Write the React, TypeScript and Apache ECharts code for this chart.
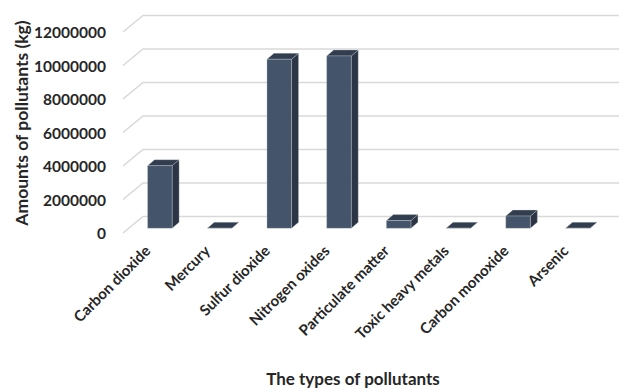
import React, { useEffect, useRef } from "react";
import * as echarts from "echarts";

const categories = [
  "Carbon dioxide",
  "Mercury",
  "Sulfur dioxide",
  "Nitrogen oxides",
  "Particulate matter",
  "Toxic heavy metals",
  "Carbon monoxide",
  "Arsenic",
];
const amounts = [3740000, 2000, 10090000, 10290000, 460000, 3000, 730000, 1000];
const yTicks = [0, 2000000, 4000000, 6000000, 8000000, 10000000, 12000000];

const FONT = "Lato, 'Open Sans', sans-serif";
const TEXT = "#262626";

// oblique projection: back wall offset relative to the front plane
const WALL_DX = 20;
const WALL_DY = -16.5;
// bar front face sits a bit behind the front plane, bar depth beyond that
const BAR_OX = 7;
const BAR_OY = -4.7;
const BAR_DX = 7;
const BAR_DY = -6;
const BAR_W = 24.6;

export default function App() {
  const ref = useRef<HTMLDivElement>(null);

  useEffect(() => {
    if (!ref.current) return;
    const chart = echarts.init(ref.current, null, { renderer: "svg" });

    const option: any = {
      animation: false,
      backgroundColor: "#ffffff",
      grid: { left: 123, right: 18.4, top: 32, bottom: 155, containLabel: false },
      xAxis: {
        type: "category",
        data: categories,
        axisLine: { show: false },
        axisTick: { show: false },
        splitLine: { show: false },
        axisLabel: {
          rotate: 45,
          interval: 0,
          margin: 9,
          padding: [0, 8, 0, 0],
          color: TEXT,
          fontFamily: FONT,
          fontWeight: "bold",
          fontSize: 15,
        },
      },
      yAxis: {
        type: "value",
        min: 0,
        max: 12000000,
        interval: 2000000,
        axisLine: { show: false },
        axisTick: { show: false },
        splitLine: { show: false },
        axisLabel: {
          margin: 17,
          color: TEXT,
          fontFamily: FONT,
          fontWeight: "bold",
          fontSize: 15.5,
          formatter: (v: number) => String(v),
        },
      },
      graphic: [
        {
          type: "text",
          x: 21,
          y: 123,
          rotation: Math.PI / 2,
          style: {
            text: "Amounts of pollutants (kg)",
            fill: TEXT,
            font: `bold 17.5px ${FONT}`,
            align: "center",
            verticalAlign: "middle",
          },
        },
        {
          type: "text",
          x: 353,
          y: 378,
          style: {
            text: "The types of pollutants",
            fill: TEXT,
            font: `bold 17px ${FONT}`,
            align: "center",
            verticalAlign: "middle",
          },
        },
      ],
      series: [
        {
          // gridlines: a short diagonal on the side wall plus the back wall line
          type: "custom",
          clip: false,
          silent: true,
          z: 1,
          data: yTicks.map((v) => [0, v]),
          encode: { x: 0, y: 1 },
          renderItem: (params: any, api: any) => {
            const cs = params.coordSys;
            const y = api.coord([0, api.value(1)])[1];
            const x0 = cs.x;
            return {
              type: "polyline",
              shape: {
                points: [
                  [x0, y],
                  [x0 + WALL_DX, y + WALL_DY],
                  [x0 + WALL_DX + cs.width, y + WALL_DY],
                ],
              },
              style: { stroke: "#d9d9d9", lineWidth: 1.6, fill: "none" },
            };
          },
        },
        {
          // 3D columns: front, top and right faces
          type: "custom",
          clip: false,
          z: 2,
          data: amounts.map((v, i) => [i, v]),
          encode: { x: 0, y: 1 },
          renderItem: (params: any, api: any) => {
            const i = api.value(0);
            const top = api.coord([i, api.value(1)]);
            const base = api.coord([i, 0]);
            const L = top[0] + BAR_OX - BAR_W / 2;
            const R = L + BAR_W;
            const T = top[1] + BAR_OY;
            const B = base[1] + BAR_OY;
            const edge = { stroke: "rgba(210,214,220,0.6)", lineWidth: 0.5 };
            return {
              type: "group",
              children: [
                {
                  type: "polygon",
                  shape: {
                    points: [
                      [R, T],
                      [R + BAR_DX, T + BAR_DY],
                      [R + BAR_DX, B + BAR_DY],
                      [R, B],
                    ],
                  },
                  style: { fill: "#2b3545", ...edge },
                },
                {
                  type: "polygon",
                  shape: {
                    points: [
                      [L, T],
                      [R, T],
                      [R + BAR_DX, T + BAR_DY],
                      [L + BAR_DX, T + BAR_DY],
                    ],
                  },
                  style: { fill: "#323e4f", ...edge },
                },
                {
                  type: "rect",
                  shape: { x: L, y: T, width: BAR_W, height: Math.max(B - T, 0) },
                  style: { fill: "#44546a", ...edge },
                },
              ],
            };
          },
        },
      ],
    };

    chart.setOption(option);
    return () => chart.dispose();
  }, []);

  return (
    <div
      ref={ref}
      style={{ position: "fixed", left: 0, top: 0, width: 619, height: 388 }}
    />
  );
}
